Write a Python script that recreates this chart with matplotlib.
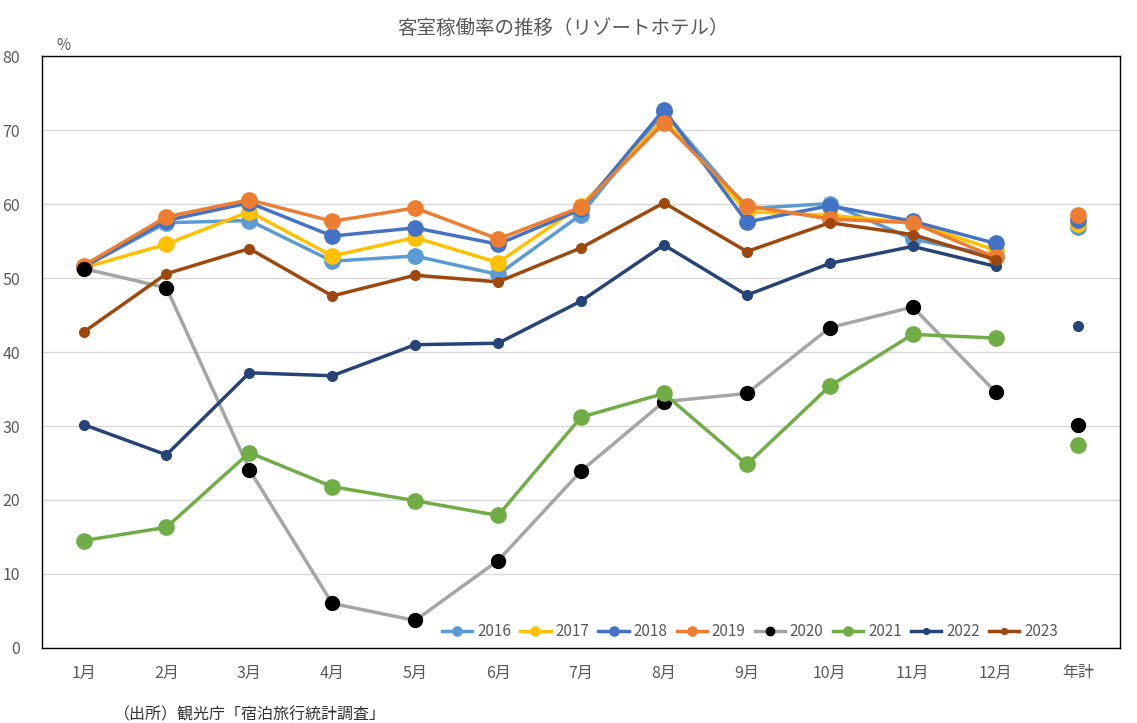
import numpy as np
import matplotlib.pyplot as plt

plt.rcParams['font.family'] = ['Noto Sans CJK JP', 'DejaVu Sans']

categories = ["1月", "2月", "3月", "4月", "5月", "6月", "7月", "8月", "9月", "10月", "11月", "12月", "年計"]
years = ["2016", "2017", "2018", "2019", "2020", "2021", "2022", "2023"]

v2016 = [51.5, 57.5, 57.8, 52.3, 53.0, 50.5, 58.6, 72.5, 59.4, 60.1, 55.3, 53.0]
v2017 = [51.4, 54.6, 59.0, 53.0, 55.5, 52.1, 59.8, 71.5, 59.0, 58.5, 57.5, 53.8]
v2018 = [51.5, 57.8, 60.2, 55.7, 56.8, 54.6, 59.3, 72.8, 57.6, 59.8, 57.7, 54.7]
v2019 = [51.7, 58.3, 60.6, 57.7, 59.5, 55.3, 59.6, 71.0, 59.8, 58.0, 57.5, 52.8]
v2020 = [51.3, 48.7, 24.1, 6.0, 3.7, 11.8, 23.9, 33.3, 34.4, 43.3, 46.1, 34.6]
v2021 = [14.5, 16.3, 26.4, 21.8, 19.9, 17.9, 31.2, 34.4, 24.8, 35.4, 42.4, 41.9]
v2022 = [30.2, 26.1, 37.2, 36.8, 41.0, 41.2, 46.9, 54.5, 47.7, 52.0, 54.3, 51.6]
v2023 = [42.7, 50.6, 54.0, 47.6, 50.4, 49.5, 54.1, 60.2, 53.6, 57.5, 55.9, 52.5]
annual = [56.9, 57.3, 57.9, 58.5, 30.1, 27.4, 43.5, None]

series = [v2016, v2017, v2018, v2019, v2020, v2021, v2022, v2023]
line_colors = ["#5B9BD5", "#FFC000", "#4472C4", "#ED7D31", "#A5A5A5", "#70AD47", "#264478", "#9E480E"]
marker_colors = ["#5B9BD5", "#FFC000", "#4472C4", "#ED7D31", "#000000", "#70AD47", "#264478", "#9E480E"]
msizes = [11, 11, 11, 11, 10, 11, 7, 7]

fig = plt.figure(figsize=(11.37, 7.23), dpi=100)
ax = fig.add_axes([0.037, 0.104, 0.948, 0.818])

x = np.arange(12)
for i, name in enumerate(years):
    ax.plot(x, series[i], color=line_colors[i], lw=2.5, marker="o", ms=msizes[i],
            mfc=marker_colors[i], mec=marker_colors[i], label=name, zorder=3 + i * 0.1)
    if annual[i] is not None:
        ax.plot([12], [annual[i]], marker="o", ms=msizes[i], color=marker_colors[i],
                ls="none", zorder=3 + i * 0.1)

ax.set_xlim(-0.5, 12.5)
ax.set_ylim(0, 80)
ax.set_yticks(range(0, 81, 10))
ax.set_xticks(range(13))
ax.set_xticklabels(categories)
ax.tick_params(length=0, labelsize=11.5, colors="#595959", pad=12)
ax.tick_params(axis="y", pad=16)
ax.grid(axis="y", color="#D9D9D9", lw=1)
ax.set_axisbelow(True)
for s in ax.spines.values():
    s.set_color("black")
    s.set_linewidth(1)

ax.text(0.013, 1.01, "%", transform=ax.transAxes, fontsize=11, color="#595959")
fig.text(0.495, 0.953, "客室稼働率の推移（リゾートホテル）", ha="center", fontsize=14, color="#595959")
fig.text(0.1, 0.005, "（出所）観光庁「宿泊旅行統計調査」", fontsize=11.5, color="#333333")

ax.legend(loc="lower right", ncol=8, frameon=False, fontsize=11, handlelength=2.0,
          columnspacing=0.6, handletextpad=0.3, bbox_to_anchor=(0.955, -0.01),
          labelcolor="#595959", markerscale=0.6)

fig.savefig("out.png")
